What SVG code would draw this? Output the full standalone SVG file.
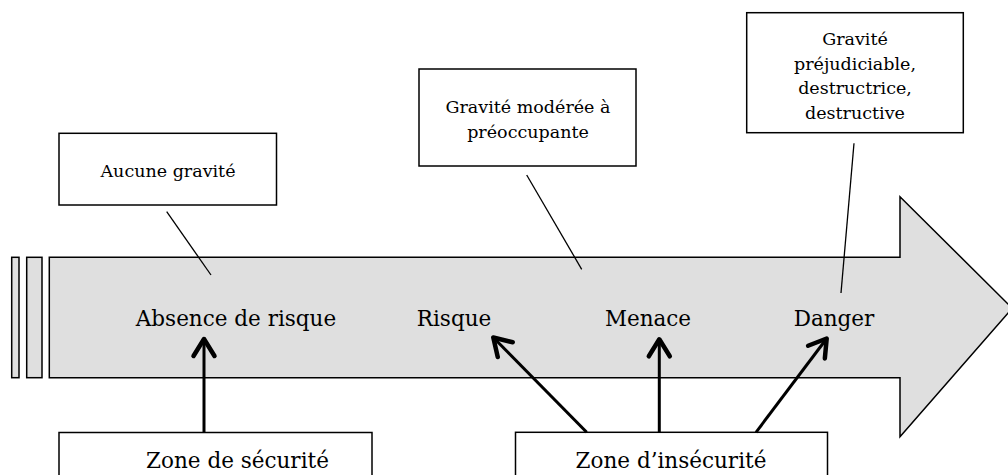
<svg xmlns="http://www.w3.org/2000/svg" width="1008" height="475" viewBox="0 0 1008 475">
  <style>
    .box { fill: #ffffff; stroke: #000000; stroke-width: 1.5; }
    .band { fill: #dfdfdf; stroke: #000000; stroke-width: 1.5; stroke-linejoin: miter; }
    .small { font-family: "DejaVu Serif", "Liberation Serif", serif; font-size: 17.5px; fill: #000000; text-anchor: middle; }
    .big { font-family: "DejaVu Serif", "Liberation Serif", serif; font-size: 21.5px; fill: #000000; text-anchor: middle; }
    .thin { stroke: #000000; stroke-width: 1.3; fill: none; }
    .thick { stroke: #000000; stroke-width: 3; fill: none; marker-end: url(#chevron); }
  </style>
  <defs>
    <marker id="chevron" markerUnits="userSpaceOnUse" viewBox="-24 -16 32 32" markerWidth="32" markerHeight="32" refX="0" refY="0" orient="auto" overflow="visible">
      <path d="M-17,-10.5 L0,0 L-17,10.5" fill="none" stroke="#000000" stroke-width="4.5" stroke-linecap="round" stroke-linejoin="round"/>
    </marker>
  </defs>

  <!-- scale band: stacked bars and the big gray arrow -->
  <g id="scale">
    <rect class="band" x="11.7" y="257.3" width="7.3" height="120.4"/>
    <rect class="band" x="26.7" y="257.3" width="15.3" height="120.4"/>
    <polygon class="band" points="49.3,257.3 900,257.3 900,196.7 1009,305 1009,312 900,436.7 900,377.7 49.3,377.7"/>
  </g>

  <!-- labels on the band -->
  <g id="absence"><text class="big" x="236" y="326">Absence de risque</text></g>
  <g id="risque"><text class="big" x="454" y="326">Risque</text></g>
  <g id="menace"><text class="big" x="648" y="326">Menace</text></g>
  <g id="danger"><text class="big" x="834" y="326">Danger</text></g>

  <!-- severity callouts -->
  <g id="aucune-gravite">
    <rect class="box" x="59" y="133.3" width="217.5" height="71.7"/>
    <text class="small" x="168" y="177">Aucune gravité</text>
  </g>
  <g id="gravite-moderee">
    <rect class="box" x="419" y="69" width="217" height="97"/>
    <text class="small" x="528" y="113">Gravité modérée à</text>
    <text class="small" x="528" y="137.5">préoccupante</text>
  </g>
  <g id="gravite-prejudiciable">
    <rect class="box" x="746.7" y="12.7" width="216.6" height="120"/>
    <text class="small" x="855" y="45">Gravité</text>
    <text class="small" x="855" y="69.5">préjudiciable,</text>
    <text class="small" x="855" y="94">destructrice,</text>
    <text class="small" x="855" y="118.5">destructive</text>
  </g>

  <!-- zone boxes (run past the bottom edge) -->
  <g id="zone-securite">
    <rect class="box" x="59" y="432.5" width="313" height="60"/>
    <text class="big" x="237.5" y="468">Zone de sécurité</text>
  </g>
  <g id="zone-insecurite">
    <rect class="box" x="515.5" y="432.3" width="312" height="60"/>
    <text class="big" x="671" y="468">Zone d’insécurité</text>
  </g>

  <!-- connectors -->
  <g id="connectors">
    <line class="thin" x1="166.7" y1="211.7" x2="211" y2="275"/>
    <line class="thin" x1="526.7" y1="175" x2="581.7" y2="269.3"/>
    <line class="thin" x1="854" y1="143.3" x2="841" y2="293"/>
    <line class="thick" x1="204" y1="432.5" x2="204" y2="339"/>
    <line class="thick" x1="586.7" y1="432.3" x2="493.3" y2="337.5"/>
    <line class="thick" x1="659.3" y1="432.3" x2="659.3" y2="339.3"/>
    <line class="thick" x1="756" y1="432.3" x2="826.7" y2="338.5"/>
  </g>
</svg>
